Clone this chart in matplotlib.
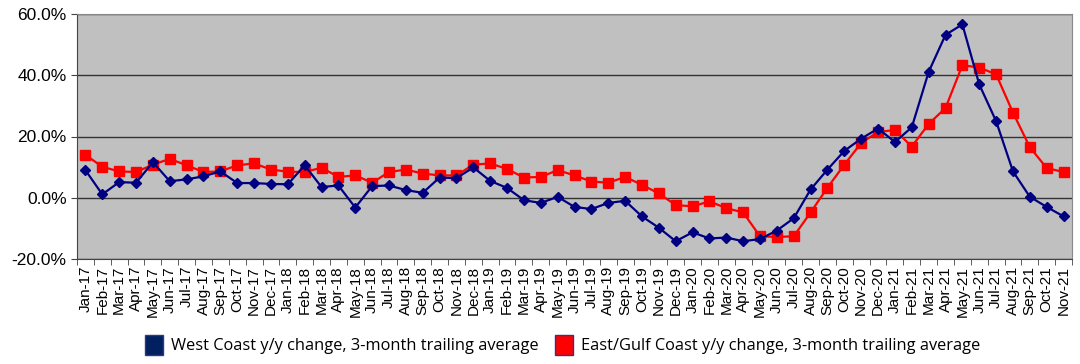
#!/usr/bin/env python3

import numpy as np
import matplotlib.pyplot as plt
from matplotlib.patches import Patch
from matplotlib.ticker import FuncFormatter, FixedLocator

plt.rcParams["font.family"] = ["Liberation Sans", "DejaVu Sans"]

months = ["Jan", "Feb", "Mar", "Apr", "May", "Jun",
          "Jul", "Aug", "Sep", "Oct", "Nov", "Dec"]
labels = [f"{m}-{y}" for y in range(17, 22) for m in months][:59]

west = [9.0, 1.1, 5.1, 4.9, 11.6, 5.4, 6.0, 7.0, 8.6, 4.8, 4.8, 4.5,
        4.4, 10.6, 3.5, 4.0, -3.2, 3.8, 4.0, 2.5, 1.6, 6.6, 6.4, 9.9,
        5.5, 3.2, -0.8, -1.7, 0.3, -3.0, -3.7, -1.7, -1.0, -6.1, -9.8, -14.2,
        -11.3, -13.3, -13.0, -14.2, -13.5, -10.7, -6.7, 2.7, 9.2, 15.3, 19.3, 22.6,
        18.2, 23.0, 41.1, 53.2, 56.6, 37.0, 25.0, 8.6, 0.3, -3.0, -6.1]

east = [14.0, 10.1, 8.6, 8.4, 10.8, 12.7, 10.6, 8.4, 8.6, 10.6, 11.2, 9.2,
        8.5, 8.4, 9.8, 6.8, 7.3, 4.9, 8.4, 9.2, 7.9, 7.3, 7.3, 10.8,
        11.2, 9.4, 6.6, 6.8, 9.0, 7.3, 5.3, 4.9, 6.8, 4.2, 1.4, -2.4,
        -2.8, -1.2, -3.4, -4.8, -12.6, -12.8, -12.6, -4.8, 3.3, 10.8, 17.9, 21.5,
        22.1, 16.7, 24.1, 29.3, 43.3, 42.5, 40.3, 27.8, 16.5, 9.7, 8.4]

west_name = "West Coast y/y change, 3-month trailing average"
east_name = "East/Gulf Coast y/y change, 3-month trailing average"

fig = plt.figure(figsize=(10.8, 3.64), dpi=100)
ax = fig.add_axes([0.0713, 0.2885, 0.9213, 0.673])
ax.set_facecolor("#C0C0C0")

x = np.arange(len(labels))
ax.plot(x, west, color="#000080", marker="D", markersize=5, lw=1.6, zorder=3)
ax.plot(x, east, color="#FF0000", marker="s", markersize=7, lw=1.6, zorder=2)

ax.set_xlim(-0.5, len(labels) - 0.5)
ax.set_ylim(-20, 60)
ax.set_yticks([-20, 0, 20, 40, 60])
ax.yaxis.set_major_formatter(FuncFormatter(lambda v, p: f"{v:.1f}%"))
ax.grid(axis="y", color="#333333", lw=1.0)
ax.set_axisbelow(True)

ax.set_xticks(x)
ax.set_xticklabels(labels, rotation=90, fontsize=11)
ax.xaxis.set_minor_locator(FixedLocator(np.arange(-0.5, len(labels), 1)))
ax.tick_params(axis="x", which="major", length=0, pad=5)
ax.tick_params(axis="x", which="minor", length=4, color="#444444")
ax.tick_params(axis="y", labelsize=12.5, length=4, color="#444444")

for s in ["top", "right"]:
    ax.spines[s].set_color("#888888")
for s in ["left", "bottom"]:
    ax.spines[s].set_color("#444444")

handles = [Patch(facecolor="#002060", edgecolor="#333388", label=west_name),
           Patch(facecolor="#FF0000", edgecolor="#333388", label=east_name)]
fig.legend(handles=handles, loc="lower center", bbox_to_anchor=(0.521, -0.015),
           ncol=2, frameon=False, handlelength=1.1,
           handleheight=1.5, columnspacing=1.0, handletextpad=0.5,
           prop={"family": ["Open Sans", "DejaVu Sans"], "size": 11.8})

fig.savefig("out.png", dpi=100)
